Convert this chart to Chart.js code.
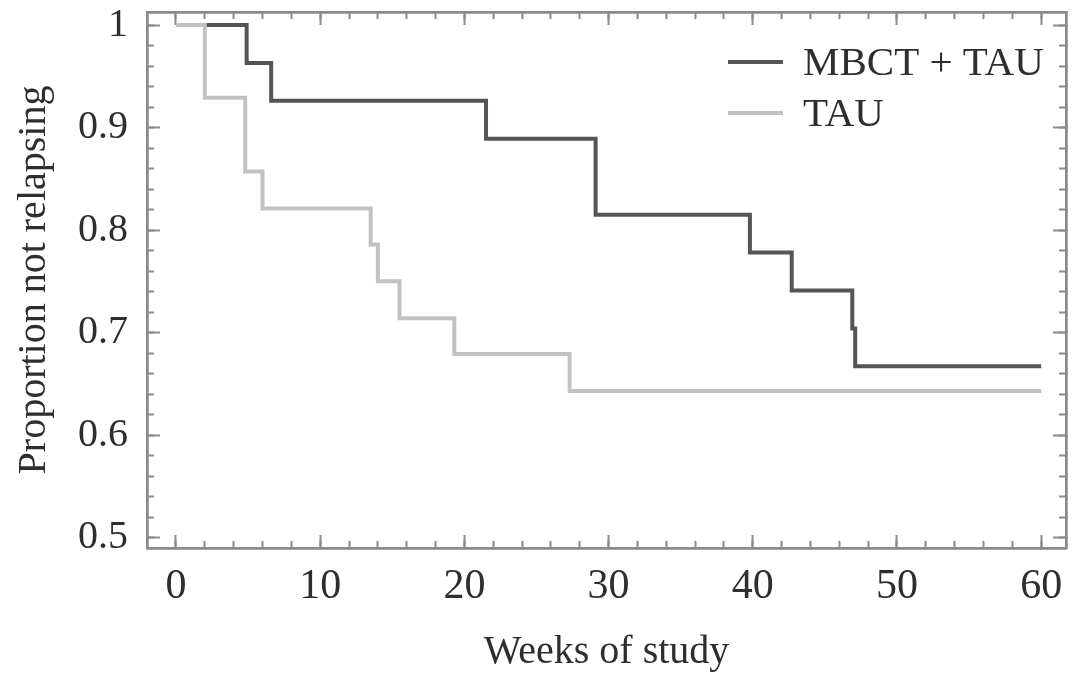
<!DOCTYPE html>
<html>
<head>
<meta charset="utf-8">
<script src="https://cdn.jsdelivr.net/npm/chart.js@4.4.1/dist/chart.umd.min.js"></script>
<style>
  html, body { margin: 0; padding: 0; background: #fff; }
</style>
</head>
<body>
<canvas id="km" width="1078" height="673"></canvas>
<script>
// Kaplan-Meier steps (weeks, proportion not relapsing)
var mbctWeeks = [0, 4.9, 6.6, 21.5, 29.1, 39.8, 42.7, 46.9, 47.1, 60];
var mbctSurv  = [1, 0.963, 0.926, 0.889, 0.815, 0.778, 0.741, 0.704, 0.667, 0.667];
var tauWeeks  = [0, 2.0, 4.8, 6.0, 13.5, 14.0, 15.5, 19.3, 27.3, 60];
var tauSurv   = [1, 0.929, 0.857, 0.821, 0.786, 0.750, 0.714, 0.679, 0.643, 0.643];
var seriesNames = ['MBCT + TAU', 'TAU'];
var xTicks = [0, 10, 20, 30, 40, 50, 60];
var yTicks = [0.5, 0.6, 0.7, 0.8, 0.9, 1];

// minor tick marks (every 2 weeks / every 0.02)
var xMinor = [];
for (var w = 0; w <= 60; w += 2) xMinor.push(w);
var yMinor = [];
for (var k = 25; k <= 50; k++) yMinor.push(k / 50);

var FONT = "'Liberation Serif', 'Times New Roman', serif";
var FRAME = '#8a8a8a';
var TEXT = '#2e2e2e';
var X_MIN = -2.01, X_MAX = 61.72;
var Y_MIN = 0.4898, Y_MAX = 1.0127;

function setTicks(list) {
  return function (s) { s.ticks = list.map(function (v) { return {value: v}; }); };
}
// fixed axis size, and no extra room for labels hanging past the plot
function fixSize(w, h) {
  return function (s) {
    if (w !== null) s.width = w;
    if (h !== null) s.height = h;
    s.paddingTop = 0; s.paddingBottom = 0;
    s.paddingLeft = 0; s.paddingRight = 0;
  };
}

// tick-only axis (no labels), ticks drawn inward
function tickAxis(pos, list, len, horiz) {
  return {
    type: 'linear',
    position: pos,
    weight: 0,
    min: horiz ? X_MIN : Y_MIN,
    max: horiz ? X_MAX : Y_MAX,
    afterBuildTicks: setTicks(list),
    afterFit: horiz ? fixSize(null, 0) : fixSize(0, null),
    border: {display: true, color: FRAME, width: 2.5},
    grid: {drawOnChartArea: false, drawTicks: true, tickLength: len, tickColor: FRAME, tickWidth: 2},
    ticks: {display: false}
  };
}

function toPoints(xs, ys) {
  return xs.map(function (x, i) { return {x: x, y: ys[i]}; });
}

var insideLegend = {
  id: 'insideLegend',
  afterDatasetsDraw: function (chart) {
    var ctx = chart.ctx, a = chart.chartArea;
    ctx.save();
    ctx.font = '41px ' + FONT;
    ctx.textBaseline = 'middle';
    ctx.textAlign = 'left';
    chart.data.datasets.forEach(function (ds, i) {
      var y = a.top + 50 + i * 51;
      var x0 = a.right - 338;
      ctx.strokeStyle = ds.borderColor;
      ctx.lineWidth = ds.borderWidth;
      ctx.beginPath();
      ctx.moveTo(x0, y);
      ctx.lineTo(x0 + 55, y);
      ctx.stroke();
      ctx.fillStyle = TEXT;
      ctx.fillText(ds.label, x0 + 75, y + 2);
    });
    ctx.restore();
  }
};

new Chart('km', {
  type: 'line',
  data: {
    datasets: [
      {
        label: seriesNames[0],
        data: toPoints(mbctWeeks, mbctSurv),
        stepped: true,
        borderColor: '#555555',
        backgroundColor: '#555555',
        borderWidth: 4,
        pointRadius: 0,
        fill: false,
        order: 1
      },
      {
        label: seriesNames[1],
        data: toPoints(tauWeeks, tauSurv),
        stepped: true,
        borderColor: '#c2c2c2',
        backgroundColor: '#c2c2c2',
        borderWidth: 4,
        pointRadius: 0,
        fill: false,
        order: 0
      }
    ]
  },
  options: {
    responsive: false,
    animation: false,
    layout: {padding: {top: 12, right: 12, left: 0, bottom: 0}},
    plugins: {
      legend: {display: false},
      tooltip: {enabled: false}
    },
    scales: {
      x: {
        type: 'linear',
        position: 'bottom',
        weight: 1,
        min: X_MIN,
        max: X_MAX,
        afterBuildTicks: setTicks(xTicks),
        afterFit: fixSize(null, 125),
        border: {display: true, color: FRAME, width: 2.5},
        grid: {drawOnChartArea: false, drawTicks: true, tickLength: -13, tickColor: FRAME, tickWidth: 2},
        ticks: {
          padding: 27,
          color: TEXT,
          maxRotation: 0,
          autoSkip: false,
          font: {family: FONT, size: 42}
        },
        title: {
          display: true,
          text: 'Weeks of study',
          color: TEXT,
          padding: 0,
          font: {family: FONT, size: 40, lineHeight: 1.05}
        }
      },
      xMinor: tickAxis('bottom', xMinor, -7, true),
      xTop: Object.assign(tickAxis('top', xTicks, -13, true), {weight: 1}),
      xTopMinor: tickAxis('top', xMinor, -7, true),
      y: {
        type: 'linear',
        position: 'left',
        weight: 1,
        min: Y_MIN,
        max: Y_MAX,
        afterBuildTicks: setTicks(yTicks),
        afterFit: fixSize(147, null),
        border: {display: true, color: FRAME, width: 2.5},
        grid: {drawOnChartArea: false, drawTicks: true, tickLength: -13, tickColor: FRAME, tickWidth: 2},
        ticks: {
          padding: 32,
          color: TEXT,
          font: {family: FONT, size: 40},
          callback: function (v) { return v === 1 ? '1' : v.toFixed(1); }
        },
        title: {
          display: true,
          text: 'Proportion not relapsing',
          color: TEXT,
          padding: {top: 10, bottom: 0},
          font: {family: FONT, size: 40}
        }
      },
      yMinor: tickAxis('left', yMinor, -7, false),
      yRight: Object.assign(tickAxis('right', yTicks, -13, false), {weight: 1}),
      yRightMinor: tickAxis('right', yMinor, -7, false)
    }
  },
  plugins: [insideLegend]
});
</script>
</body>
</html>
